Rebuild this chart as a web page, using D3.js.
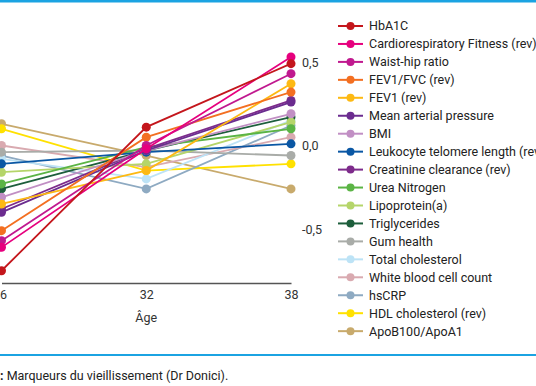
<!DOCTYPE html>
<html>
<head>
<meta charset="utf-8">
<script src="https://cdn.jsdelivr.net/npm/d3@7"></script>
<style>
  body { margin: 0; background: #fff; }
  svg text { font-family: Roboto, "DejaVu Sans", sans-serif; }
</style>
</head>
<body>
<div class="container"></div>
<script>
// data
const ages = [26, 32, 38];
const names = ["HbA1C", "Cardiorespiratory Fitness (rev)", "Waist-hip ratio", "FEV1/FVC (rev)",
  "FEV1 (rev)", "Mean arterial pressure", "BMI", "Leukocyte telomere length (rev)",
  "Creatinine clearance (rev)", "Urea Nitrogen", "Lipoprotein(a)", "Triglycerides",
  "Gum health", "Total cholesterol", "White blood cell count", "hsCRP",
  "HDL cholesterol (rev)", "ApoB100/ApoA1"];
const colors = ["#c4161c", "#e6007e", "#c0198f", "#f36f21", "#fdb913", "#6b2c8f", "#c18fc4",
  "#0a57a4", "#7d2b8b", "#5bb445", "#b5d56a", "#1d5e3c", "#a9aca8", "#bde3f6",
  "#d9aab0", "#8eaac2", "#ffe100", "#c8aa6c"];
const values = [
  [-0.75, 0.11, 0.49],
  [-0.61, -0.02, 0.53],
  [-0.57, 0.00, 0.43],
  [-0.51, 0.05, 0.32],
  [-0.35, -0.15, 0.37],
  [-0.40, -0.03, 0.26],
  [-0.31, -0.03, 0.19],
  [-0.11, -0.04, 0.01],
  [-0.38, -0.02, 0.27],
  [-0.23, -0.01, 0.10],
  [-0.16, -0.11, 0.14],
  [-0.26, -0.03, 0.17],
  [-0.04, -0.03, -0.06],
  [-0.08, -0.20, 0.15],
  [0.00, -0.13, 0.05],
  [-0.06, -0.26, 0.12],
  [0.10, -0.15, -0.11],
  [0.13, -0.06, -0.26]
];
const yTicks = [0.5, 0, -0.5];
const xLabel = "Âge";
const caption = "Marqueurs du vieillissement (Dr Donici).";

const width = 536, height = 386;
const svg = d3.select(".container").append("svg")
  .attr("width", width)
  .attr("height", height);

// blue rules
svg.append("rect").attr("x", 0).attr("y", 0).attr("width", width).attr("height", 2.5).attr("fill", "#1ba3e2");
svg.append("rect").attr("x", 0).attr("y", 354).attr("width", width).attr("height", 2).attr("fill", "#1ba3e2");

const x = d3.scaleLinear().domain([26, 38]).range([1.5, 291]);
const y = d3.scaleLinear().domain([-0.5, 0.5]).range([229, 62]);

// x axis
const xAxis = svg.append("g")
  .attr("transform", "translate(0, 283)")
  .call(d3.axisBottom(x).tickValues(ages).tickSize(0).tickSizeOuter(0).tickPadding(7));
xAxis.select(".domain").attr("stroke", "#555").attr("stroke-width", 1.5);
xAxis.selectAll("text").attr("font-size", 12.5).attr("fill", "#333");
xAxis.selectAll("text").filter(d => d === 26).attr("dx", -2);

svg.append("text")
  .attr("x", x(32))
  .attr("y", 322)
  .attr("text-anchor", "middle")
  .attr("font-size", 12.5)
  .attr("fill", "#333")
  .text(xLabel);

// y axis on right
const yAxis = svg.append("g")
  .attr("transform", "translate(296, 0)")
  .call(d3.axisRight(y).tickValues(yTicks).tickSize(0).tickPadding(6)
    .tickFormat(d => d3.format(".1f")(d).replace(".", ",").replace("−", "-")));
yAxis.select(".domain").remove();
yAxis.selectAll("text").attr("font-size", 12.5).attr("fill", "#333");

// lines
const line = d3.line().x((d, i) => x(ages[i])).y(d => y(d));
const order = d3.range(names.length).reverse();
const series = svg.append("g").selectAll("g")
  .data(order)
  .join("g");
series.append("path")
  .attr("d", i => line(values[i]))
  .attr("fill", "none")
  .attr("stroke", i => colors[i])
  .attr("stroke-width", 1.8);
series.selectAll("circle")
  .data(i => values[i].map(v => ({v, c: colors[i]})))
  .join("circle")
  .attr("cx", (d, j) => x(ages[j]))
  .attr("cy", d => y(d.v))
  .attr("r", 4.5)
  .attr("fill", d => d.c);

// legend
const legend = svg.append("g").selectAll("g")
  .data(names)
  .join("g")
  .attr("transform", (d, i) => `translate(338, ${26 + i * 17.95})`);
legend.append("line")
  .attr("x1", 0).attr("x2", 25)
  .attr("stroke", (d, i) => colors[i])
  .attr("stroke-width", 2);
legend.append("circle")
  .attr("cx", 12.5)
  .attr("r", 4)
  .attr("fill", (d, i) => colors[i]);
legend.append("text")
  .attr("x", 31)
  .attr("dy", "0.35em")
  .attr("font-size", 12.5)
  .attr("fill", "#222")
  .text(d => d);

// caption
const cap = svg.append("text")
  .attr("x", 0)
  .attr("y", 380)
  .attr("font-size", 12.5)
  .attr("fill", "#222");
cap.append("tspan").attr("font-weight", "bold").text(":");
cap.append("tspan").text(" " + caption);
</script>
</body>
</html>
